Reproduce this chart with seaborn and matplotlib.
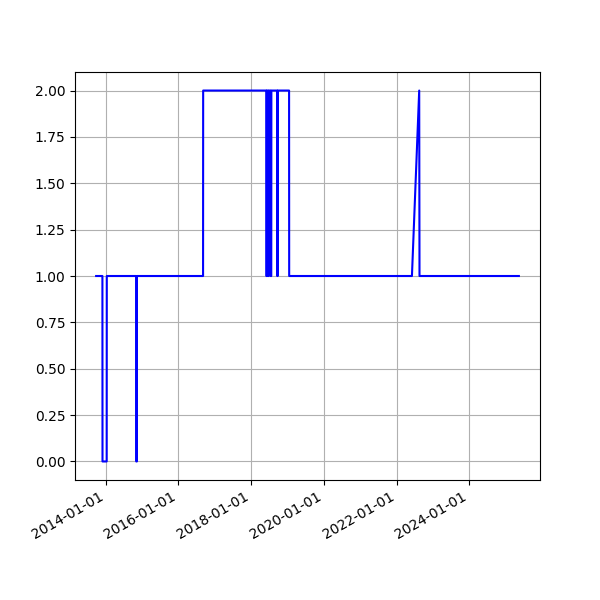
import matplotlib
matplotlib.use("Agg")
import matplotlib.pyplot as plt
import matplotlib.dates as mdates
import pandas as pd
import seaborn as sns

# Points of the series (date, value)
dates = [
    "2013-09-28", "2013-11-30", "2013-12-01", "2014-01-12", "2014-01-13",
    "2014-11-04", "2014-11-05", "2014-11-11", "2014-11-12",
    "2016-09-06", "2016-09-07",
    "2018-06-03", "2018-06-04", "2018-06-09", "2018-06-10",
    "2018-06-19", "2018-06-20", "2018-06-27", "2018-06-28",
    "2018-07-15", "2018-07-16", "2018-07-23", "2018-07-24",
    "2018-09-20", "2018-09-21", "2018-09-26", "2018-09-27",
    "2019-01-18", "2019-01-19",
    "2022-06-05", "2022-08-17", "2022-08-20",
    "2025-05-14",
]
values = [
    1, 1, 0, 0, 1,
    1, 0, 0, 1,
    1, 2,
    2, 1, 1, 2,
    2, 1, 1, 2,
    2, 1, 1, 2,
    2, 1, 1, 2,
    2, 1,
    1, 2, 1,
    1,
]

df = pd.DataFrame({"date": pd.to_datetime(dates), "value": values})

fig, ax = plt.subplots(figsize=(6, 6), dpi=100)
sns.lineplot(data=df, x="date", y="value", color="blue", linewidth=1.5,
             sort=False, estimator=None, ax=ax)

ax.xaxis.set_major_locator(mdates.YearLocator(2))
ax.xaxis.set_major_formatter(mdates.DateFormatter("%Y-%m-%d"))
ax.set_xlabel("")
ax.set_ylabel("")
ax.grid(True)
fig.autofmt_xdate()

fig.savefig("out.png", dpi=100)
